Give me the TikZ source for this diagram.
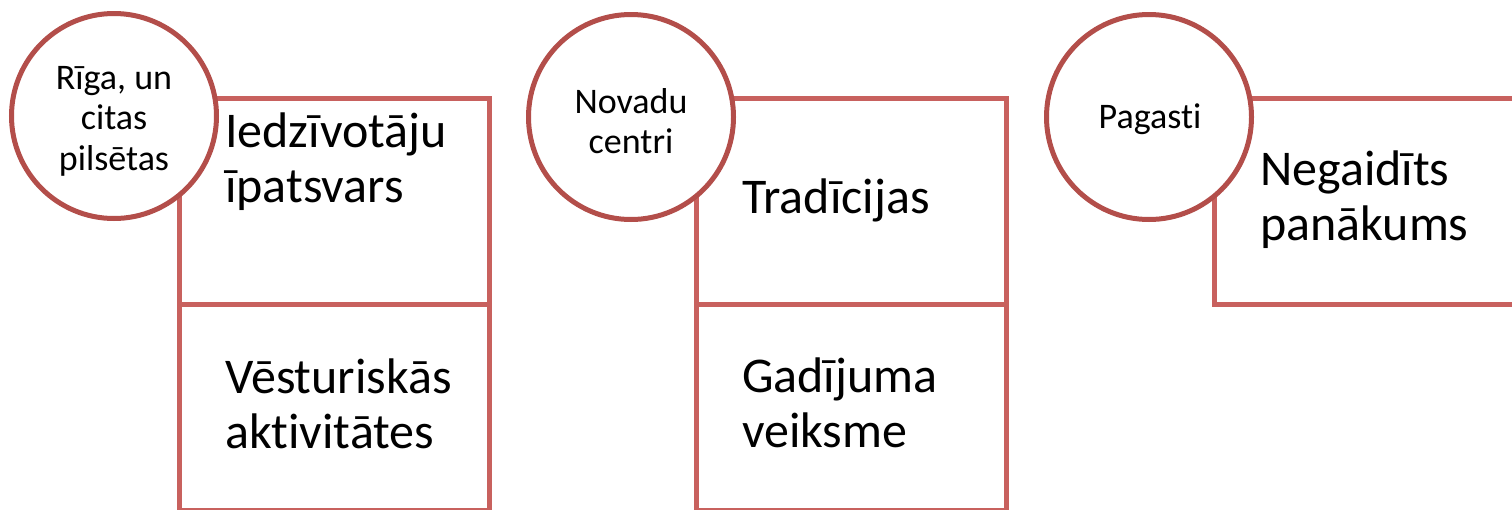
\documentclass[tikz,border=0pt]{standalone}
\usepackage{fontspec}
\setmainfont{Carlito}[Ligatures={NoCommon}]
\definecolor{circlered}{HTML}{B34E4A}
\definecolor{boxred}{HTML}{C8615E}
\tikzset{
  cbox/.style={draw=boxred, line width=4.5pt, fill=white, rectangle, inner sep=0pt,
    minimum width=310pt, minimum height=206pt, anchor=north west},
  cwide/.style={cbox, minimum width=340pt},
  ccirc/.style={draw=circlered, line width=5pt, fill=white, circle, inner sep=0pt,
    minimum size=205pt},
  ctext/.style={inner sep=0pt, align=center, font=\fontsize{36}{40.5}\selectfont},
  btext/.style={anchor=base west, inner sep=0pt, align=left, font=\fontsize{50}{55}\selectfont}
}
\begin{document}
\begin{tikzpicture}[x=1pt,y=-1pt]
\useasboundingbox (0,0) rectangle (1512,509);
\begin{scope}
\clip (0,0) rectangle (1512,509);
% group 1
\node[cbox] (b1a) at (177,96) {};
\node[cbox] (b1b) at (177,302) {};
\node[ccirc] (c1) at (114,116) {};
\node[ctext] (c1t) at (114,121) {Rīga, un\\citas\\pilsētas};
\node[btext] (t1a) at (225,202) {Iedzīvotāju\\īpatsvars};
\node[btext] (t1b) at (225,448) {Vēsturiskās\\aktivitātes};
% group 2
\node[cbox] (b2a) at (694,96) {};
\node[cbox] (b2b) at (694,302) {};
\node[ccirc] (c2) at (631,117) {};
\node[ctext] (c2t) at (631,121) {Novadu\\centri};
\node[btext] (t2a) at (742,213) {Tradīcijas};
\node[btext] (t2b) at (742,447) {Gadījuma\\veiksme};
% group 3
\node[cwide] (b3a) at (1212,96) {};
\node[ccirc] (c3) at (1149,117) {};
\node[ctext, anchor=base] (c3t) at (1150,128) {Pagasti};
\node[btext] (t3a) at (1260,240) {Negaidīts\\panākums};
\end{scope}
\end{tikzpicture}
\end{document}
